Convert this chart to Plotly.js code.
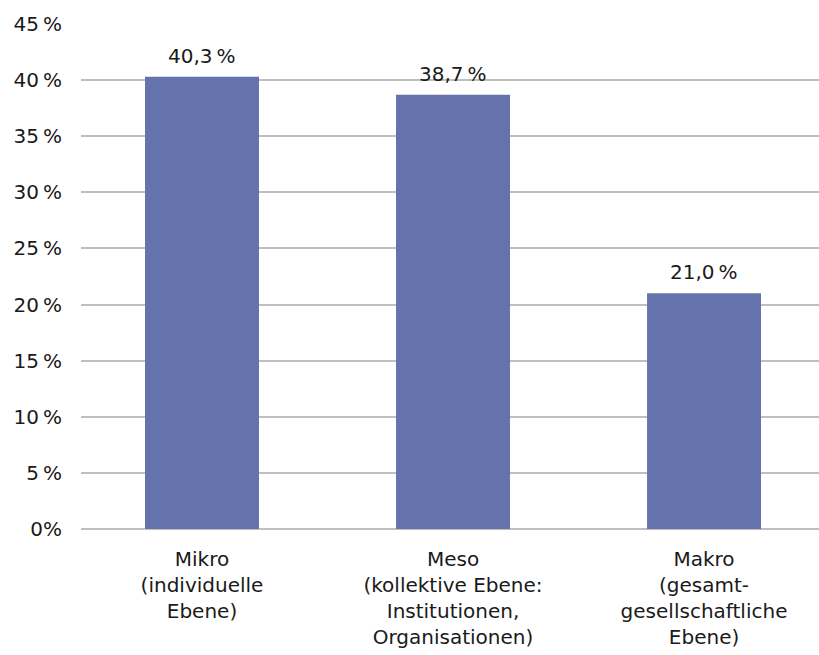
<!DOCTYPE html>
<html><head><meta charset="utf-8">
<script src="https://cdn.plot.ly/plotly-3.0.1.min.js"></script>
<style>html,body{margin:0;padding:0;background:#fff;}</style>
</head><body>
<div id="chart" style="width:819px;height:655px;"></div>
<script>
const categories = [
  "Mikro<br>(individuelle<br>Ebene)",
  "Meso<br>(kollektive Ebene:<br>Institutionen,<br>Organisationen)",
  "Makro<br>(gesamt-<br>gesellschaftliche<br>Ebene)"
];
const values = [40.3, 38.7, 21.0];
const tickVals = [0, 5, 10, 15, 20, 25, 30, 35, 40, 45];
const tickText = ["0%", "5\u202F%", "10\u202F%", "15\u202F%", "20\u202F%", "25\u202F%", "30\u202F%", "35\u202F%", "40\u202F%", "45\u202F%"];

const labels = values.map(v => v.toFixed(1).replace('.', ',') + '\u202F%');
const font = {family: "DejaVu Sans, sans-serif", size: 20, color: "#1a1a1a"};

Plotly.newPlot('chart', [{
  type: 'bar',
  x: [0, 1, 2],
  y: values,
  marker: {color: '#6473AC'},
  width: 0.454,
  hoverinfo: 'none'
}], {
  width: 819, height: 655,
  margin: {l: 81, r: 0, t: 24, b: 126},
  paper_bgcolor: '#fff', plot_bgcolor: '#fff',
  font: font,
  showlegend: false,
  annotations: values.map((v, i) => ({
    x: i, y: v, xref: 'x', yref: 'y',
    text: labels[i], showarrow: false,
    yanchor: 'bottom', yshift: 7, font: font
  })),
  xaxis: {
    range: [-0.482, 2.458],
    tickmode: 'array', tickvals: [0, 1, 2], ticktext: categories,
    ticks: 'outside', ticklen: 12, tickcolor: 'rgba(0,0,0,0)',
    showgrid: false, zeroline: false, showline: false,
    tickfont: font, fixedrange: true
  },
  yaxis: {
    range: [0, 45],
    tickmode: 'array', tickvals: tickVals, ticktext: tickText,
    showgrid: true, gridcolor: '#BFBFBF', gridwidth: 2,
    zeroline: true, zerolinecolor: '#BFBFBF', zerolinewidth: 2,
    ticks: 'outside', ticklen: 14, tickcolor: 'rgba(0,0,0,0)',
    showline: false, tickfont: font, fixedrange: true
  }
}, {staticPlot: true, displayModeBar: false});
</script>
</body></html>
